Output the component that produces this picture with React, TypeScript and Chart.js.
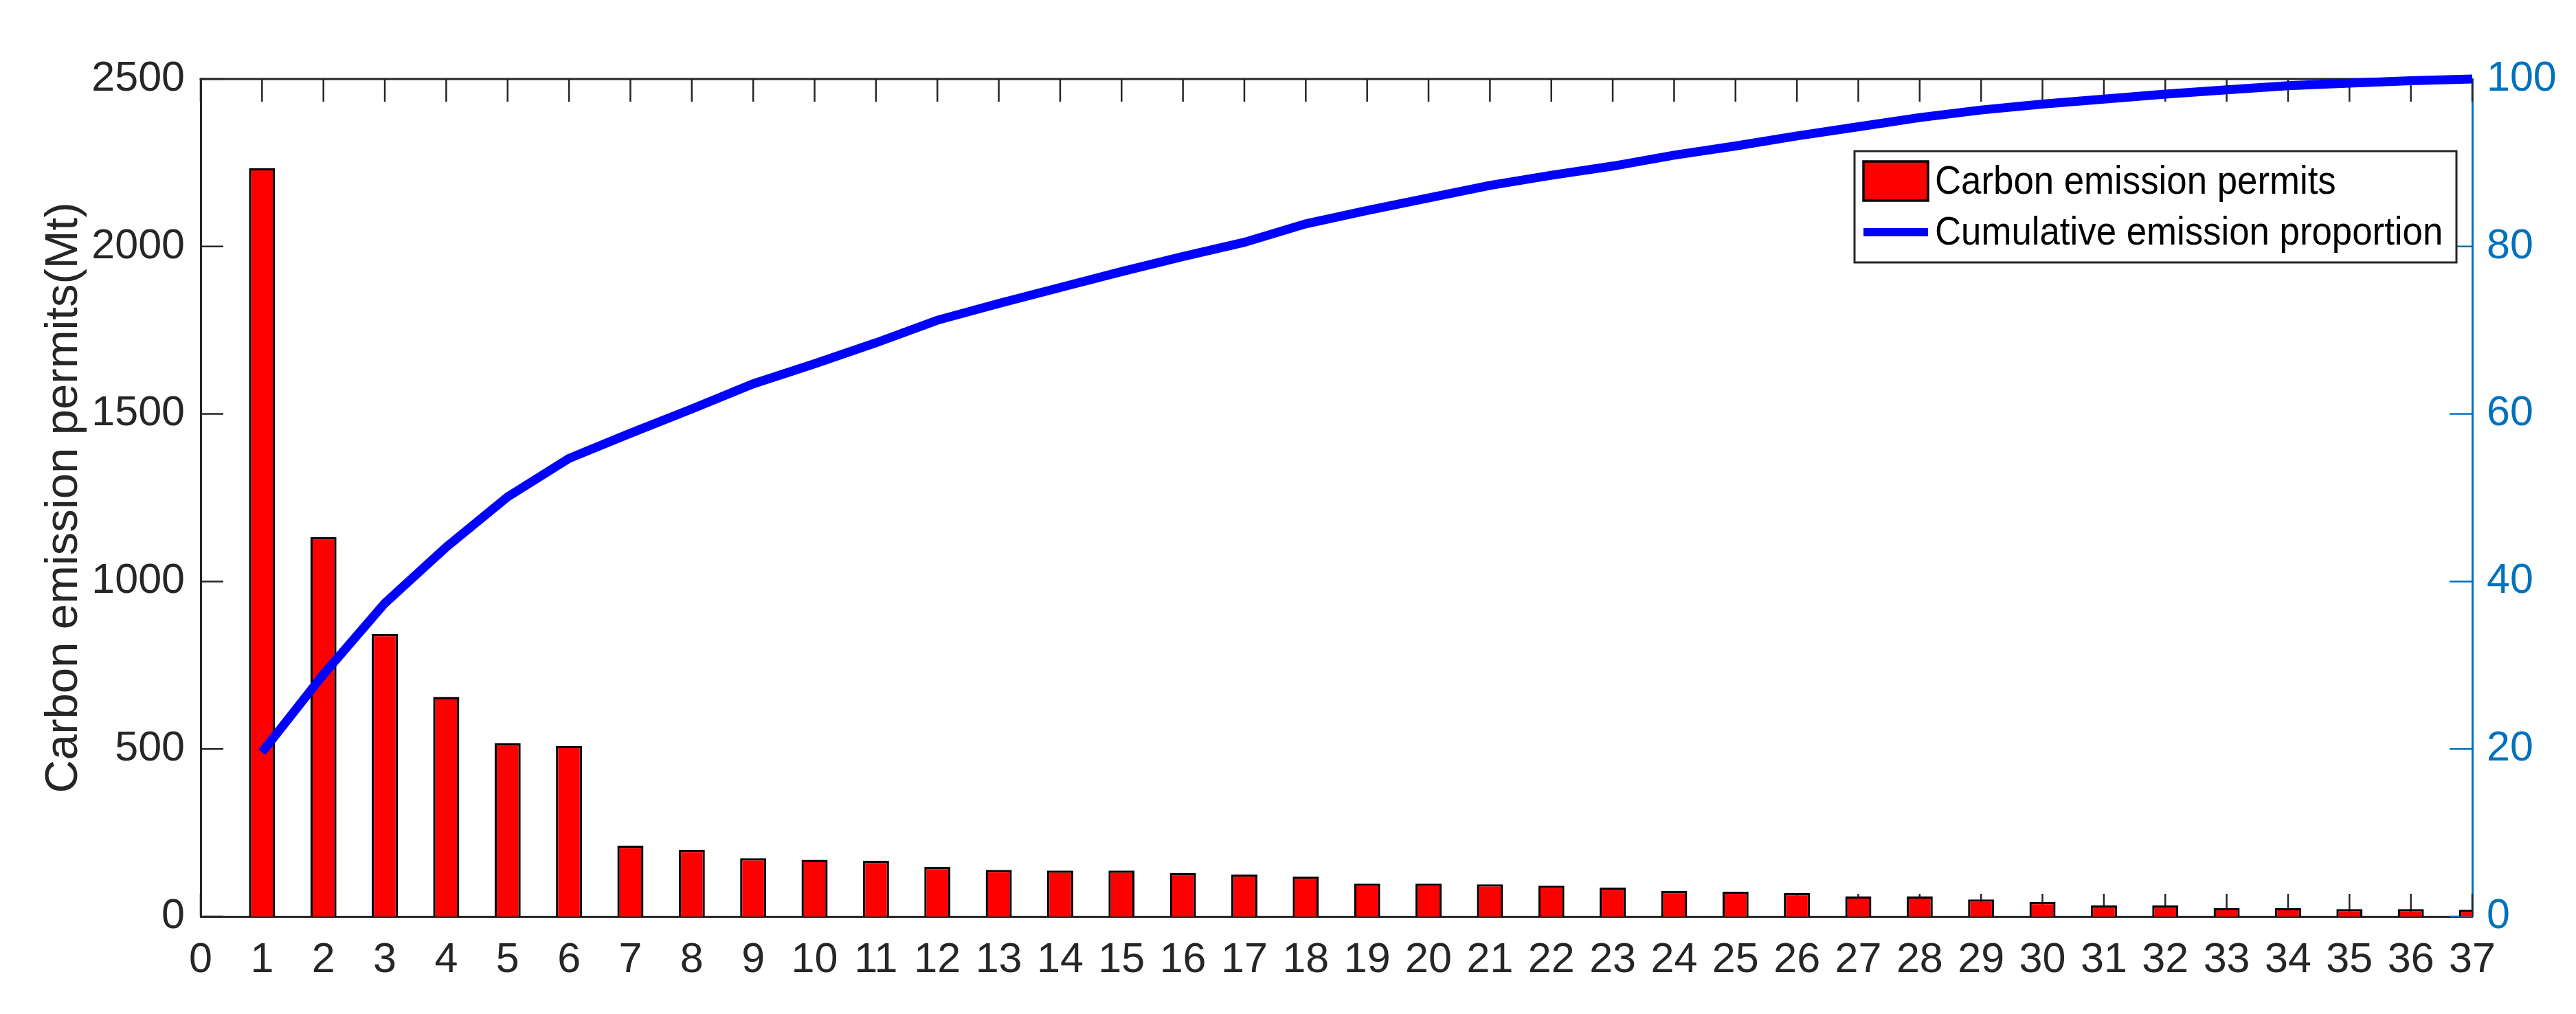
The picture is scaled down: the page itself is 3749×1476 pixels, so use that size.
import React, { useEffect, useRef } from 'react';
import { Chart, registerables } from 'chart.js';

Chart.register(...registerables);

// ---------------- data ----------------
const categories = [
  1, 2, 3, 4, 5, 6, 7, 8, 9, 10, 11, 12, 13, 14, 15, 16, 17, 18, 19, 20,
  21, 22, 23, 24, 25, 26, 27, 28, 29, 30, 31, 32, 33, 34, 35, 36, 37,
];

const permits = [
  2234, 1132, 843, 655, 517, 509, 211, 199, 174, 169, 166, 148, 139, 137, 137,
  129, 125, 119, 98, 98, 96, 92, 86, 76, 74, 70, 60, 60, 51, 43, 33, 33, 25, 25,
  22, 22, 20,
];

const cumulative = [
  19.6, 28.9, 37.4, 44.1, 50.1, 54.7, 57.7, 60.6, 63.6, 66.0, 68.5, 71.2, 73.2,
  75.1, 77.0, 78.8, 80.5, 82.7, 84.3, 85.8, 87.3, 88.5, 89.6, 90.9, 92.0, 93.2,
  94.3, 95.4, 96.3, 97.0, 97.6, 98.2, 98.7, 99.2, 99.5, 99.8, 100,
];

const xRange = [0, 37];
const leftRange = [0, 2500];
const leftStep = 500;
const rightRange = [0, 100];
const rightStep = 20;

const barLabel = 'Carbon emission permits';
const lineLabel = 'Cumulative emission proportion';
const yTitle = 'Carbon emission permits(Mt)';

// ---------------- styles ----------------
const FONT = '"Liberation Sans", Arial, Helvetica, sans-serif';
const AXIS = '#262626';
const RIGHT = '#0072BD';
const TICK_FONT = 61;

const plainTick = (v: any) => String(v);

const decorPlugin = {
  id: 'decor',
  beforeDatasetsDraw(chart: any) {
    const { ctx, chartArea: ca, scales } = chart;
    const x = scales.x;
    const y = scales.y;
    const y1 = scales.y1;
    const L = 33;
    ctx.save();
    ctx.lineCap = 'butt';
    // top box edge
    ctx.strokeStyle = AXIS;
    ctx.lineWidth = 3;
    ctx.beginPath();
    ctx.moveTo(ca.left - 1.5, ca.top);
    ctx.lineTo(ca.right, ca.top);
    ctx.stroke();
    // inward ticks
    ctx.lineWidth = 2.5;
    x.ticks.forEach((t: any) => {
      const px = x.getPixelForValue(t.value);
      ctx.beginPath();
      ctx.moveTo(px, ca.bottom);
      ctx.lineTo(px, ca.bottom - L);
      ctx.moveTo(px, ca.top);
      ctx.lineTo(px, ca.top + L);
      ctx.stroke();
    });
    y.ticks.forEach((t: any) => {
      const py = y.getPixelForValue(t.value);
      ctx.beginPath();
      ctx.moveTo(ca.left, py);
      ctx.lineTo(ca.left + L, py);
      ctx.stroke();
    });
    ctx.strokeStyle = RIGHT;
    y1.ticks.forEach((t: any) => {
      const py = y1.getPixelForValue(t.value);
      ctx.beginPath();
      ctx.moveTo(ca.right, py);
      ctx.lineTo(ca.right - L, py);
      ctx.stroke();
    });
    ctx.restore();
  },
  afterDraw(chart: any) {
    const { ctx } = chart;
    const ds = chart.data.datasets;
    const bar = ds.find((d: any) => d.type === 'bar');
    const line = ds.find((d: any) => d.type === 'line');
    const bx = 2699;
    const by = 220;
    const bw = 876;
    const bh = 162;
    ctx.save();
    ctx.fillStyle = '#ffffff';
    ctx.fillRect(bx, by, bw, bh);
    ctx.strokeStyle = AXIS;
    ctx.lineWidth = 3;
    ctx.strokeRect(bx, by, bw, bh);
    // bar swatch
    ctx.fillStyle = bar.backgroundColor;
    ctx.fillRect(2712, 235, 94, 57);
    ctx.strokeStyle = '#000000';
    ctx.lineWidth = 3.5;
    ctx.strokeRect(2712, 235, 94, 57);
    // line swatch
    ctx.fillStyle = line.borderColor;
    ctx.fillRect(2712, 332, 94, 12);
    // text (slightly condensed, like the original Helvetica rendering)
    ctx.fillStyle = '#000000';
    ctx.font = `58px ${FONT}`;
    ctx.textAlign = 'left';
    ctx.textBaseline = 'middle';
    const sx = 0.91;
    ctx.save();
    ctx.translate(2816, 0);
    ctx.scale(sx, 1);
    ctx.fillText(bar.label, 0, 266);
    ctx.fillText(line.label, 0, 340);
    ctx.restore();
    ctx.restore();
  },
};

export default function App() {
  const canvasRef = useRef<HTMLCanvasElement | null>(null);

  useEffect(() => {
    if (!canvasRef.current) return;
    Chart.defaults.font.family = FONT;
    const chart = new Chart(canvasRef.current, {
      type: 'bar',
      data: {
        datasets: [
          {
            type: 'line',
            label: lineLabel,
            data: categories.map((c, i) => ({ x: c, y: cumulative[i] })),
            yAxisID: 'y1',
            xAxisID: 'x',
            borderColor: '#0000FF',
            backgroundColor: '#0000FF',
            borderWidth: 13,
            pointRadius: 0,
            tension: 0,
            fill: false,
            clip: false,
            order: 0,
          } as any,
          {
            type: 'bar',
            label: barLabel,
            data: categories.map((c, i) => ({ x: c, y: permits[i] })),
            yAxisID: 'y',
            xAxisID: 'x',
            backgroundColor: '#FF0000',
            borderColor: '#000000',
            borderWidth: 3.3,
            categoryPercentage: 1,
            barPercentage: 0.425,
            clip: { left: 0, top: 0, right: 0, bottom: 2 },
            order: 1,
          } as any,
        ],
      },
      options: {
        responsive: false,
        animation: false,
        devicePixelRatio: 1,
        layout: { padding: { top: 115, left: 0, right: 0, bottom: 0 } },
        plugins: {
          legend: { display: false },
          tooltip: { enabled: false },
        },
        scales: {
          x: {
            type: 'linear',
            position: 'bottom',
            min: xRange[0],
            max: xRange[1],
            offset: false,
            grid: { display: false, drawTicks: false, offset: false },
            border: { display: true, color: AXIS, width: 3 },
            ticks: {
              stepSize: 1,
              autoSkip: false,
              maxRotation: 0,
              minRotation: 0,
              padding: 28,
              color: AXIS,
              font: { size: TICK_FONT, family: FONT },
              callback: plainTick,
            },
            afterFit: (s: any) => {
              s.height = 142;
            },
          },
          y: {
            type: 'linear',
            position: 'left',
            min: leftRange[0],
            max: leftRange[1],
            grid: { display: false, drawTicks: false },
            border: { display: true, color: AXIS, width: 3 },
            ticks: {
              stepSize: leftStep,
              padding: 23,
              color: AXIS,
              font: { size: TICK_FONT, family: FONT },
              callback: plainTick,
            },
            title: {
              display: true,
              text: yTitle,
              color: AXIS,
              font: { size: 67, family: FONT },
              padding: { top: 53, bottom: 0 },
            },
            afterFit: (s: any) => {
              s.width = 292;
            },
          },
          y1: {
            type: 'linear',
            position: 'right',
            min: rightRange[0],
            max: rightRange[1],
            grid: { display: false, drawTicks: false },
            border: { display: true, color: RIGHT, width: 3 },
            ticks: {
              stepSize: rightStep,
              padding: 21,
              color: RIGHT,
              font: { size: TICK_FONT, family: FONT },
              callback: plainTick,
            },
            afterFit: (s: any) => {
              s.width = 151;
            },
          },
        },
      } as any,
      plugins: [decorPlugin],
    });
    return () => chart.destroy();
  }, []);

  return (
    <div
      style={{
        position: 'fixed',
        left: 0,
        top: 0,
        width: 3749,
        height: 1476,
        background: '#ffffff',
      }}
    >
      <canvas ref={canvasRef} width={3749} height={1476} style={{ display: 'block' }} />
    </div>
  );
}
